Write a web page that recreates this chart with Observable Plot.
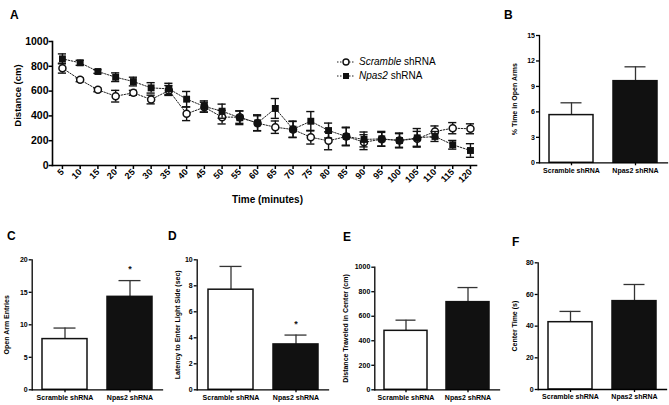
<!DOCTYPE html>
<html>
<head>
<meta charset="utf-8">
<script src="https://cdn.jsdelivr.net/npm/d3@7"></script>
<script src="https://cdn.jsdelivr.net/npm/@observablehq/plot@0.6"></script>
<style>
  body { margin: 0; background: #fff; }
  #fig { position: relative; width: 669px; height: 405px; overflow: hidden; background: #fff;
         font-family: "Liberation Sans", Arial, Helvetica, sans-serif; color: #000; }
  .panel { position: absolute; }
  .panel svg { overflow: visible; }
  .letter { position: absolute; font-weight: bold; font-size: 12px; line-height: 1; }
  .legend { position: absolute; left: 337px; font-size: 10px; line-height: 1; display: flex; align-items: center; white-space: nowrap; }
  .legend svg { margin-right: 4px; }
</style>
</head>
<body>
<div id="fig"></div>
<script>
// ---------- Panel A data: open field distance per 5-min bin ----------
const times = [5, 10, 15, 20, 25, 30, 35, 40, 45, 50, 55, 60, 65, 70, 75, 80, 85, 90, 95, 100, 105, 110, 115, 120];
const scrambleMean = [785, 691, 610, 559, 586, 532, 605, 417, 470, 390, 390, 341, 309, 290, 228, 199, 234, 188, 212, 202, 215, 274, 301, 296];
const scrambleSem  = [40, 15, 15, 47, 20, 35, 40, 55, 40, 55, 50, 60, 50, 65, 55, 72, 70, 60, 55, 55, 60, 45, 45, 40];
const npas2Mean    = [860, 828, 758, 712, 677, 626, 618, 535, 476, 438, 385, 344, 460, 293, 357, 282, 234, 210, 215, 202, 223, 234, 167, 121];
const npas2Sem     = [40, 20, 15, 35, 35, 42, 45, 62, 45, 57, 55, 65, 80, 65, 78, 60, 75, 60, 60, 60, 75, 40, 35, 55];
const distTicks = [0, 200, 400, 600, 800, 1000];
const seriesItalic = ["Scramble", "Npas2"];
const seriesSuffix = " shRNA";

// ---------- Bar panels ----------
const groups = ["Scramble shRNA", "Npas2 shRNA"];
const bMean = [5.62, 9.62], bSem = [1.45, 1.69], bStars = ["", ""];
const cMean = [7.8, 14.3],  cSem = [1.7, 2.5],   cStars = ["", "*"];
const dMean = [7.7, 3.49],  dSem = [1.79, 0.72], dStars = ["", "*"];
const eMean = [481, 715],   eSem = [87, 119],    eStars = ["", ""];
const fMean = [42.5, 55.8], fSem = [6.8, 10.5],  fStars = ["", ""];
const bTicks = [0, 3, 6, 9, 12, 15];
const cTicks = [0, 5, 10, 15, 20];
const dTicks = [0, 2, 4, 6, 8, 10];
const eTicks = [0, 200, 400, 600, 800, 1000];
const fTicks = [0, 20, 40, 60, 80];
const labels = {
  A: ["Distance (cm)", "Time (minutes)"],
  B: "% Time in Open Arms",
  C: "Open Arm Entries",
  D: "Latency to Enter Light Side (sec)",
  E: "Distance Traveled in Center (cm)",
  F: "Center Time (s)"
};

const FONT = '"Liberation Sans", Arial, Helvetica, sans-serif';
const fig = document.getElementById("fig");
const plain = d => String(d);

function place(el, left, top) {
  const d = document.createElement("div");
  d.className = "panel";
  d.style.left = left + "px";
  d.style.top = top + "px";
  d.appendChild(el);
  fig.appendChild(d);
}

// ---------- Panel A ----------
const scr = times.map((t, i) => ({t, m: scrambleMean[i], e: scrambleSem[i]}));
const nps = times.map((t, i) => ({t, m: npas2Mean[i], e: npas2Sem[i]}));
const capHalf = 1.15; // minutes

function errMarks(data) {
  return [
    Plot.ruleX(data, {x: "t", y1: d => d.m - d.e, y2: d => d.m + d.e, stroke: "#111", strokeWidth: 1.4}),
    Plot.ruleY(data, {y: d => d.m - d.e, x1: d => d.t - capHalf, x2: d => d.t + capHalf, stroke: "#111", strokeWidth: 1.4}),
    Plot.ruleY(data, {y: d => d.m + d.e, x1: d => d.t - capHalf, x2: d => d.t + capHalf, stroke: "#111", strokeWidth: 1.4})
  ];
}

const plotA = Plot.plot({
  width: 490, height: 215,
  marginLeft: 52, marginRight: 14, marginTop: 41, marginBottom: 50,
  style: {fontFamily: FONT, fontWeight: "bold", fontSize: "10px", background: "transparent", overflow: "visible"},
  x: {domain: [2.2, 121.7]},
  y: {domain: [0, 1000]},
  marks: [
    Plot.axisY({ticks: distTicks, tickFormat: plain, tickSize: 3.5, tickPadding: 0.5, fontSize: 10.5, label: null, strokeWidth: 1.5}),
    Plot.axisX({ticks: times, tickFormat: plain, tickRotate: -45, tickSize: 4, tickPadding: 1, fontSize: 9, label: null, strokeWidth: 1.5}),
    Plot.text([labels.A[0]], {text: d => d, frameAnchor: "left", textAnchor: "middle", rotate: -90, lineAnchor: "middle", dx: -35, dy: -8, fontSize: 9.5}),
    Plot.text([labels.A[1]], {text: d => d, frameAnchor: "bottom", textAnchor: "middle", lineAnchor: "middle", dx: 3, dy: 34, fontSize: 10}),
    Plot.frame({anchor: "left", strokeWidth: 1.6}),
    Plot.frame({anchor: "bottom", strokeWidth: 1.6}),
    Plot.line(scr, {x: "t", y: "m", stroke: "#222", strokeWidth: 1, strokeDasharray: "1.5,1.5"}),
    Plot.line(nps, {x: "t", y: "m", stroke: "#222", strokeWidth: 1, strokeDasharray: "1.5,1.5"}),
    ...errMarks(scr),
    Plot.dot(scr, {x: "t", y: "m", symbol: "circle", r: 3.5, fill: "white", stroke: "#111", strokeWidth: 1.5}),
    ...errMarks(nps),
    Plot.dot(nps, {x: "t", y: "m", symbol: "square", r: 3.9, fill: "#111", stroke: "none"})
  ]
});
place(plotA, 0, 0);

// legend
const legendRows = [62, 75.5];
seriesItalic.forEach((name, i) => {
  const row = document.createElement("div");
  row.className = "legend";
  row.style.top = (legendRows[i] - 6) + "px";
  const ns = "http://www.w3.org/2000/svg";
  const s = document.createElementNS(ns, "svg");
  s.setAttribute("width", "18"); s.setAttribute("height", "12");
  const ln = document.createElementNS(ns, "line");
  ln.setAttribute("x1", "0"); ln.setAttribute("x2", "18"); ln.setAttribute("y1", "6"); ln.setAttribute("y2", "6");
  ln.setAttribute("stroke", "#222"); ln.setAttribute("stroke-dasharray", "1.5,1.5");
  s.appendChild(ln);
  if (i === 0) {
    const c = document.createElementNS(ns, "circle");
    c.setAttribute("cx", "9"); c.setAttribute("cy", "6"); c.setAttribute("r", "3");
    c.setAttribute("fill", "white"); c.setAttribute("stroke", "#111"); c.setAttribute("stroke-width", "1.4");
    s.appendChild(c);
  } else {
    const r = document.createElementNS(ns, "rect");
    r.setAttribute("x", "6"); r.setAttribute("y", "3"); r.setAttribute("width", "6"); r.setAttribute("height", "6");
    r.setAttribute("fill", "#111");
    s.appendChild(r);
  }
  row.appendChild(s);
  const span = document.createElement("span");
  const it = document.createElement("i");
  it.textContent = name;
  span.appendChild(it);
  span.appendChild(document.createTextNode(seriesSuffix));
  row.appendChild(span);
  fig.appendChild(row);
});

// ---------- Bar panel builder ----------
function barPanel({left, top, width, height, ml, mr, mt, mb, means, sems, stars, ticks, label, labelOffset}) {
  const data = groups.map((g, i) => ({g, m: means[i], e: sems[i], s: stars[i]}));
  const p = Plot.plot({
    width, height, marginLeft: ml, marginRight: mr, marginTop: mt, marginBottom: mb,
    style: {fontFamily: FONT, fontWeight: "bold", fontSize: "7px", background: "transparent", overflow: "visible"},
    x: {domain: groups, paddingInner: 0.3125, paddingOuter: 0.156},
    y: {domain: [0, ticks[ticks.length - 1]]},
    marks: [
      Plot.axisY({ticks, tickFormat: plain, tickSize: 3, tickPadding: 1.5, fontSize: 7, label: null, strokeWidth: 1.3}),
      Plot.axisX({tickSize: 3, tickPadding: 2, fontSize: 7, label: null, strokeWidth: 1.3}),
      Plot.text([label], {text: d => d, frameAnchor: "left", textAnchor: "middle", rotate: -90, lineAnchor: "top", dx: -labelOffset, fontSize: 7}),
      Plot.ruleX(data, {x: "g", y1: "m", y2: d => d.m + d.e, stroke: "#333", strokeWidth: 1.3}),
      Plot.tickY(data, {x: "g", y: d => d.m + d.e, insetLeft: 11.5, insetRight: 11.5, stroke: "#333", strokeWidth: 1.3}),
      Plot.barY(data, {x: "g", y: "m", fill: d => d.g === groups[0] ? "white" : "#111", stroke: "#111", strokeWidth: 1.5}),
      Plot.text(data, {x: "g", y: d => d.m + d.e, text: "s", dy: -11, fontSize: 9, fill: "#111"}),
      Plot.frame({anchor: "left", strokeWidth: 1.3}),
      Plot.frame({anchor: "bottom", strokeWidth: 1.3})
    ]
  });
  place(p, left, top);
}

barPanel({left: 440, top: 0, width: 229, height: 215, ml: 99, mr: 2, mt: 35, mb: 52.7,
  means: bMean, sems: bSem, stars: bStars, ticks: bTicks, label: labels.B, labelOffset: 27});
barPanel({left: 0, top: 220, width: 170, height: 185, ml: 31.7, mr: 8, mt: 39.3, mb: 15.7,
  means: cMean, sems: cSem, stars: cStars, ticks: cTicks, label: labels.C, labelOffset: 28});
barPanel({left: 165, top: 220, width: 170, height: 185, ml: 31.7, mr: 7, mt: 39.3, mb: 15.7,
  means: dMean, sems: dSem, stars: dStars, ticks: dTicks, label: labels.D, labelOffset: 22});
barPanel({left: 335, top: 220, width: 170, height: 185, ml: 39.3, mr: 6, mt: 46.7, mb: 15.7,
  means: eMean, sems: eSem, stars: eStars, ticks: eTicks, label: labels.E, labelOffset: 32});
barPanel({left: 500, top: 220, width: 169, height: 185, ml: 37.7, mr: 3, mt: 42.3, mb: 16,
  means: fMean, sems: fSem, stars: fStars, ticks: fTicks, label: labels.F, labelOffset: 26});

// ---------- Panel letters ----------
const letters = [["A", 10, 8.5], ["B", 504, 8.5], ["C", 7, 229.5], ["D", 168, 229.5], ["E", 343, 230.5], ["F", 512, 235.5]];
letters.forEach(([t, x, y]) => {
  const d = document.createElement("div");
  d.className = "letter";
  d.style.left = x + "px";
  d.style.top = y + "px";
  d.textContent = t;
  fig.appendChild(d);
});
</script>
</body>
</html>
